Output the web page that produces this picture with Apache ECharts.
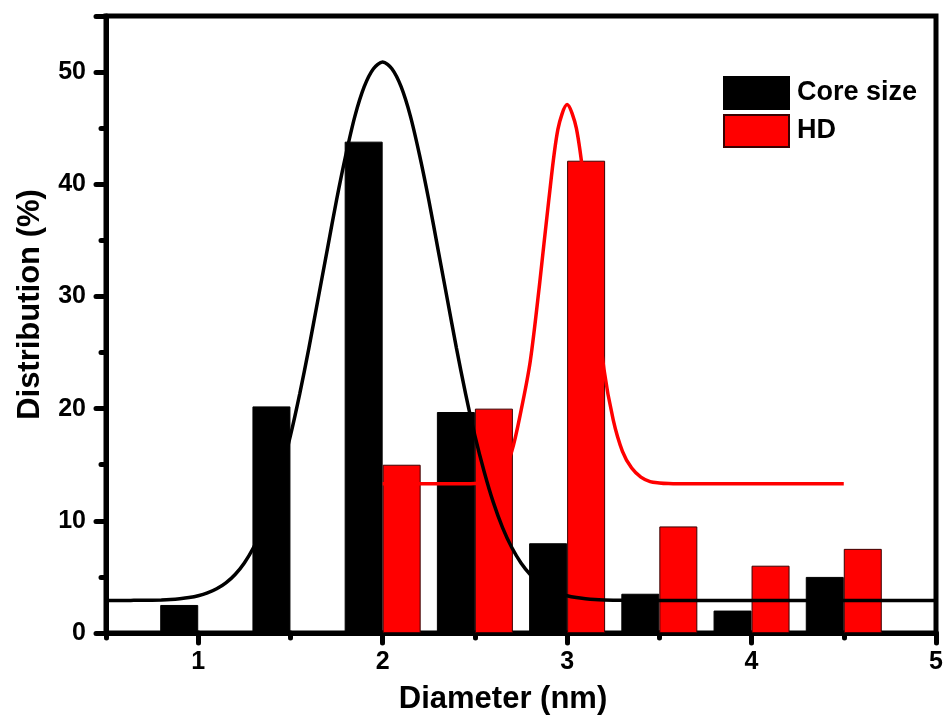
<!DOCTYPE html>
<html>
<head>
<meta charset="utf-8">
<script src="https://cdn.jsdelivr.net/npm/echarts@6/dist/echarts.min.js"></script>
<style>html,body{margin:0;padding:0;background:#fff;}#chart{width:946px;height:720px;}</style>
</head>
<body>
<div id="chart"></div>
<script>
// Histogram bins and values (%)
var coreBins = [1, 1.5, 2, 2.5, 3, 3.5, 4, 4.5];
var coreValues = [2.5, 20.2, 43.8, 19.7, 8.0, 3.5, 2.0, 5.0];
var hdBins = [2, 2.5, 3, 3.5, 4, 4.5];
var hdValues = [15.0, 20.0, 42.1, 9.5, 6.0, 7.5];

// Fit curves
var coreFitX = [0.5, 0.55, 0.6, 0.65, 0.7, 0.75, 0.8, 0.85, 0.9, 0.95, 1.0, 1.05, 1.1, 1.15, 1.2, 1.25, 1.3, 1.35, 1.4, 1.45, 1.5, 1.55, 1.6, 1.65, 1.7, 1.75, 1.8, 1.85, 1.9, 1.95, 2.0,
                2.05, 2.1, 2.15, 2.2, 2.25, 2.3, 2.35, 2.4, 2.45, 2.5, 2.55, 2.6, 2.65, 2.7, 2.75, 2.8, 2.85, 2.9, 2.95, 3.0, 3.05, 3.1, 3.15, 3.2, 3.25, 3.3, 3.35, 3.4, 3.45, 3.5,
                3.75, 4.0, 4.25, 4.5, 4.75, 5.0];
var coreFitY = [2.9, 2.9, 2.9, 2.91, 2.92, 2.93, 2.95, 2.99, 3.06, 3.16, 3.32, 3.57, 3.94, 4.47, 5.22, 6.25, 7.62, 9.4, 11.64, 14.4, 17.6, 21.3, 25.4, 29.8, 34.2, 38.6, 42.6, 46.1, 48.7, 50.3, 50.9,
                50.3, 48.7, 46.1, 42.6, 38.6, 34.2, 29.8, 25.4, 21.3, 17.6, 14.4, 11.64, 9.4, 7.62, 6.25, 5.22, 4.47, 3.94, 3.57, 3.32, 3.16, 3.06, 2.99, 2.95, 2.93, 2.92, 2.91, 2.9, 2.9, 2.9,
                2.9, 2.9, 2.9, 2.9, 2.9, 2.9];
var hdFitX = [2.0, 2.1, 2.2, 2.3, 2.4, 2.45, 2.5, 2.55, 2.6, 2.65, 2.7, 2.75, 2.8, 2.85, 2.9, 2.95, 3.0, 3.05, 3.1, 3.15, 3.2, 3.25, 3.3, 3.35, 3.4, 3.45, 3.5, 3.55, 3.6, 3.7, 3.8, 3.9, 4.0, 4.1, 4.2, 4.3, 4.4, 4.5];
var hdFitY = [13.3, 13.3, 13.3, 13.3, 13.3, 13.3, 13.32, 13.4, 13.7, 14.4, 16.2, 19.8, 24.2, 31.0, 38.5, 44.9, 47.1, 45.0, 39.0, 31.0, 23.5, 19.0, 16.2, 14.7, 13.9, 13.5, 13.38, 13.32, 13.3, 13.3, 13.3, 13.3, 13.3, 13.3, 13.3, 13.3, 13.3, 13.3];

// Tick labels
var xMajorTicks = [1, 2, 3, 4, 5];
var xMinorTicks = [0.5, 1.5, 2.5, 3.5, 4.5];

function pairs(xs, ys) { return xs.map(function (x, i) { return [x, ys[i]]; }); }

var FONT = 'Liberation Sans, Arial, sans-serif';
var chart = echarts.init(document.getElementById('chart'));
chart.setOption({
  backgroundColor: '#fff',
  animation: false,
  grid: { left: 106, right: 10, top: 16, bottom: 85, show: true, borderColor: '#000', borderWidth: 5, backgroundColor: 'transparent' },
  legend: {
    data: ['Core size', 'HD'],
    orient: 'vertical', left: 723, top: 76, padding: 0,
    itemWidth: 65, itemHeight: 32, itemGap: 4,
    icon: 'rect',
    textStyle: { fontFamily: FONT, fontWeight: 'bold', fontSize: 27, color: '#000', padding: [0, 0, 0, 3] }
  },
  xAxis: [{
    type: 'value', min: 0.5, max: 5, position: 'bottom',
    name: 'Diameter (nm)', nameLocation: 'middle', nameGap: 51,
    nameTextStyle: { fontFamily: FONT, fontWeight: 'bold', fontSize: 31, color: '#000', padding: [0, 36, 0, 0] },
    axisLine: { show: true, lineStyle: { color: '#000', width: 5 } },
    axisTick: { show: true, customValues: xMajorTicks, length: 10, lineStyle: { color: '#000', width: 5, cap: 'round' } },
    axisLabel: { customValues: xMajorTicks, fontFamily: FONT, fontWeight: 'bold', fontSize: 25, color: '#000', margin: 17 },
    splitLine: { show: false }
  }, {
    type: 'value', min: 0.5, max: 5, position: 'bottom', gridIndex: 0,
    axisLine: { show: false },
    axisTick: { show: true, customValues: xMinorTicks, length: 5, lineStyle: { color: '#000', width: 5, cap: 'round' } },
    axisLabel: { show: false },
    splitLine: { show: false }
  }],
  yAxis: {
    type: 'value', min: 0, max: 55, interval: 10,
    name: 'Distribution (%)', nameLocation: 'middle', nameGap: 60,
    nameTextStyle: { fontFamily: FONT, fontWeight: 'bold', fontSize: 31, color: '#000', padding: [0, 0, 0, 40] },
    axisLine: { show: true, lineStyle: { color: '#000', width: 5 } },
    axisTick: { show: true, length: 10, lineStyle: { color: '#000', width: 5, cap: 'round' } },
    minorTick: { show: true, splitNumber: 2, length: 5, lineStyle: { color: '#000', width: 5, cap: 'round' } },
    axisLabel: { showMaxLabel: false, fontFamily: FONT, fontWeight: 'bold', fontSize: 25, color: '#000', margin: 20,
      formatter: function (v) { return v > 50 ? '' : String(v); } },
    splitLine: { show: false }, minorSplitLine: { show: false }
  },
  series: [{
    name: 'Core size', type: 'bar', xAxisIndex: 0,
    data: pairs(coreBins, coreValues),
    barWidth: 38, barGap: '0%',
    itemStyle: { color: '#000', borderColor: '#000', borderWidth: 1 },
    z: 2
  }, {
    name: 'HD', type: 'bar', xAxisIndex: 0,
    data: pairs(hdBins, hdValues),
    barWidth: 38, barGap: '0%',
    itemStyle: { color: '#ff0000', borderColor: '#3a0000', borderWidth: 1 },
    z: 2
  }, {
    name: 'HD fit', type: 'line', xAxisIndex: 0,
    data: pairs(hdFitX, hdFitY),
    showSymbol: false, symbol: 'none', smooth: 0.3,
    lineStyle: { color: '#ff0000', width: 3.5 },
    z: 3
  }, {
    name: 'Core fit', type: 'line', xAxisIndex: 0,
    data: pairs(coreFitX, coreFitY),
    showSymbol: false, symbol: 'none', smooth: 0.3,
    lineStyle: { color: '#000', width: 3.5 },
    z: 4
  }]
});
</script>
</body>
</html>
